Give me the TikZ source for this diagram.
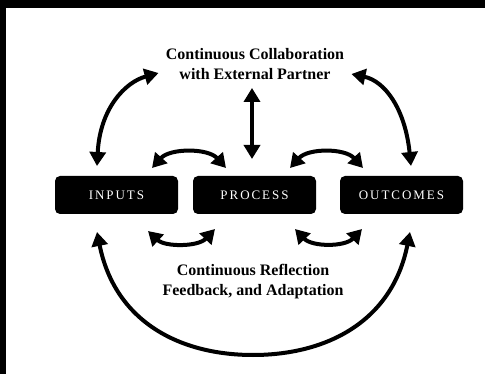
\documentclass[tikz,border=0pt]{standalone}
\usepackage{fontspec}
\setmainfont{Liberation Serif}
\newfontfamily\boxfont[LetterSpace=15]{Liberation Serif}
\usetikzlibrary{arrows.meta}
\begin{document}
\begin{tikzpicture}[x=1pt,y=-1pt,line width=4pt,line cap=round,
  >={Triangle[width=16pt,length=14pt]},
  stage/.style={fill=black,rounded corners=5pt,minimum width=123pt,minimum height=38pt,
    text=white,font=\boxfont\fontsize{13}{15}\selectfont},
  caption/.style={align=center,font=\bfseries\fontsize{16}{20}\selectfont},
  link/.style={<->}]
\useasboundingbox (0,0) rectangle (485,374);
\fill[black] (0,0) rectangle (6,374);
\fill[black] (0,0) rectangle (485,8);
% the three stages
\node[stage] (inputs) at (116.5,195) {INPUTS};
\node[stage] (process) at (254.5,195) {PROCESS};
\node[stage] (outcomes) at (401.5,195) {OUTCOMES};
\node[caption] (collab) at (255,64) {Continuous Collaboration\\with External Partner};
\node[caption] (reflect) at (253,282) {Continuous Reflection\\Feedback, and Adaptation};
\coordinate (low) at (253,355);
% partner links
\draw[link] ([xshift=-3pt,yshift=-3pt]collab.south) -- ([xshift=-2.5pt,yshift=15pt]process.north);
\draw[link] ([xshift=-19.5pt,yshift=8pt]inputs.north) .. controls +(3,-58) and +(-33,9) .. ([xshift=-2pt,yshift=-9pt]collab.west);
\draw[link] ([xshift=2pt,yshift=-10pt]collab.east) .. controls +(33,7) and +(-6,-58) .. ([xshift=9.5pt,yshift=8pt]outcomes.north);
% between stages
\draw[link] ([xshift=35.5pt,yshift=6pt]inputs.north) .. controls +(18,-20) and +(-18,-20) .. ([xshift=-28.5pt,yshift=6pt]process.north);
\draw[link] ([xshift=35.5pt,yshift=6pt]process.north) .. controls +(18,-20) and +(-18,-20) .. ([xshift=-38.5pt,yshift=6pt]outcomes.north);
\draw[link] ([xshift=31.5pt,yshift=-15pt]inputs.south) .. controls +(17,16) and +(-17,18) .. ([xshift=-39.5pt,yshift=-13pt]process.south);
\draw[link] ([xshift=40.5pt,yshift=-13pt]process.south) .. controls +(17,18) and +(-17,18) .. ([xshift=-39.5pt,yshift=-13pt]outcomes.south);
% reflection loop
\draw[link] ([xshift=-19.5pt,yshift=-16pt]inputs.south) .. controls +(18,90) and +(-73,0) .. (low)
  .. controls +(73,0) and +(-18,90) .. ([xshift=8.5pt,yshift=-16pt]outcomes.south);
\end{tikzpicture}
\end{document}
